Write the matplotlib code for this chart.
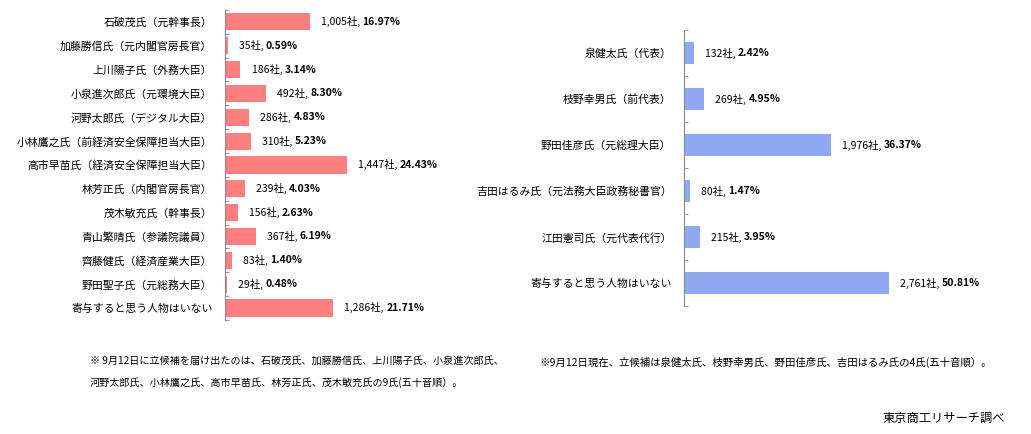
import numpy as np
import matplotlib
matplotlib.use('Agg')
import matplotlib.pyplot as plt

plt.rcParams['font.family'] = ['Noto Sans CJK JP', 'DejaVu Sans']

# LDP side
ldp_names = ['石破茂氏（元幹事長）', '加藤勝信氏（元内閣官房長官）', '上川陽子氏（外務大臣）',
             '小泉進次郎氏（元環境大臣）', '河野太郎氏（デジタル大臣）', '小林鷹之氏（前経済安全保障担当大臣）',
             '高市早苗氏（経済安全保障担当大臣）', '林芳正氏（内閣官房長官）', '茂木敏充氏（幹事長）',
             '青山繁晴氏（参議院議員）', '齊藤健氏（経済産業大臣）', '野田聖子氏（元総務大臣）',
             '寄与すると思う人物はいない']
ldp_counts = [1005, 35, 186, 492, 286, 310, 1447, 239, 156, 367, 83, 29, 1286]
ldp_pcts = [16.97, 0.59, 3.14, 8.30, 4.83, 5.23, 24.43, 4.03, 2.63, 6.19, 1.40, 0.48, 21.71]

# CDP side
cdp_names = ['泉健太氏（代表）', '枝野幸男氏（前代表）', '野田佳彦氏（元総理大臣）',
             '吉田はるみ氏（元法務大臣政務秘書官）', '江田憲司氏（元代表代行）', '寄与すると思う人物はいない']
cdp_counts = [132, 269, 1976, 80, 215, 2761]
cdp_pcts = [2.42, 4.95, 36.37, 1.47, 3.95, 50.81]

FS = 7.5


def draw_panel(ax, names, counts, pcts, color, height, xmax):
    n = len(names)
    y = np.arange(n)
    ax.barh(y, counts, height=height, color=color)
    ax.set_ylim(n - 0.5, -0.5)
    ax.set_xlim(0, xmax)
    ax.set_yticks(y)
    ax.set_yticklabels(names, fontsize=7.8)
    ax.tick_params(axis='y', which='major', length=0, pad=9)
    ax.set_yticks(np.arange(n + 1) - 0.5, minor=True)
    ax.tick_params(axis='y', which='minor', length=3, direction='in', color='#888888')
    ax.set_xticks([])
    for s in ['top', 'right', 'bottom']:
        ax.spines[s].set_visible(False)
    ax.spines['left'].set_color('#888888')
    for yi, c, p in zip(y, counts, pcts):
        t = ax.annotate(f'{c:,}社, ', xy=(c, yi), xytext=(8, 0), textcoords='offset points',
                        va='center', ha='left', fontsize=FS)
        ax.annotate(f'{p:.2f}%', xy=(1, 0.5), xycoords=t, va='center', ha='left',
                    fontsize=FS, fontweight='bold')


fig = plt.figure(figsize=(10.31, 4.34), dpi=100)

ax1 = fig.add_axes([0.218, 0.263, 0.24, 0.714])
draw_panel(ax1, ldp_names, ldp_counts, ldp_pcts, '#FF7F80', 0.72, 2930)

ax2 = fig.add_axes([0.6635, 0.295, 0.31, 0.636])
draw_panel(ax2, cdp_names, cdp_counts, cdp_pcts, '#8EA9F2', 0.48, 4310)

fig.text(0.087, 0.168, '※ 9月12日に立候補を届け出たのは、石破茂氏、加藤勝信氏、上川陽子氏、小泉進次郎氏、',
         fontsize=7.25, va='center')
fig.text(0.087, 0.118, '河野太郎氏、小林鷹之氏、高市早苗氏、林芳正氏、茂木敏充氏の9氏(五十音順）。',
         fontsize=7.25, va='center')
fig.text(0.523, 0.166, '※9月12日現在、立候補は泉健太氏、枝野幸男氏、野田佳彦氏、吉田はるみ氏の4氏(五十音順）。',
         fontsize=FS, va='center')
fig.text(0.975, 0.037, '東京商工リサーチ調べ', fontsize=8.8, va='center', ha='right')

fig.savefig('out.png', dpi=100)
